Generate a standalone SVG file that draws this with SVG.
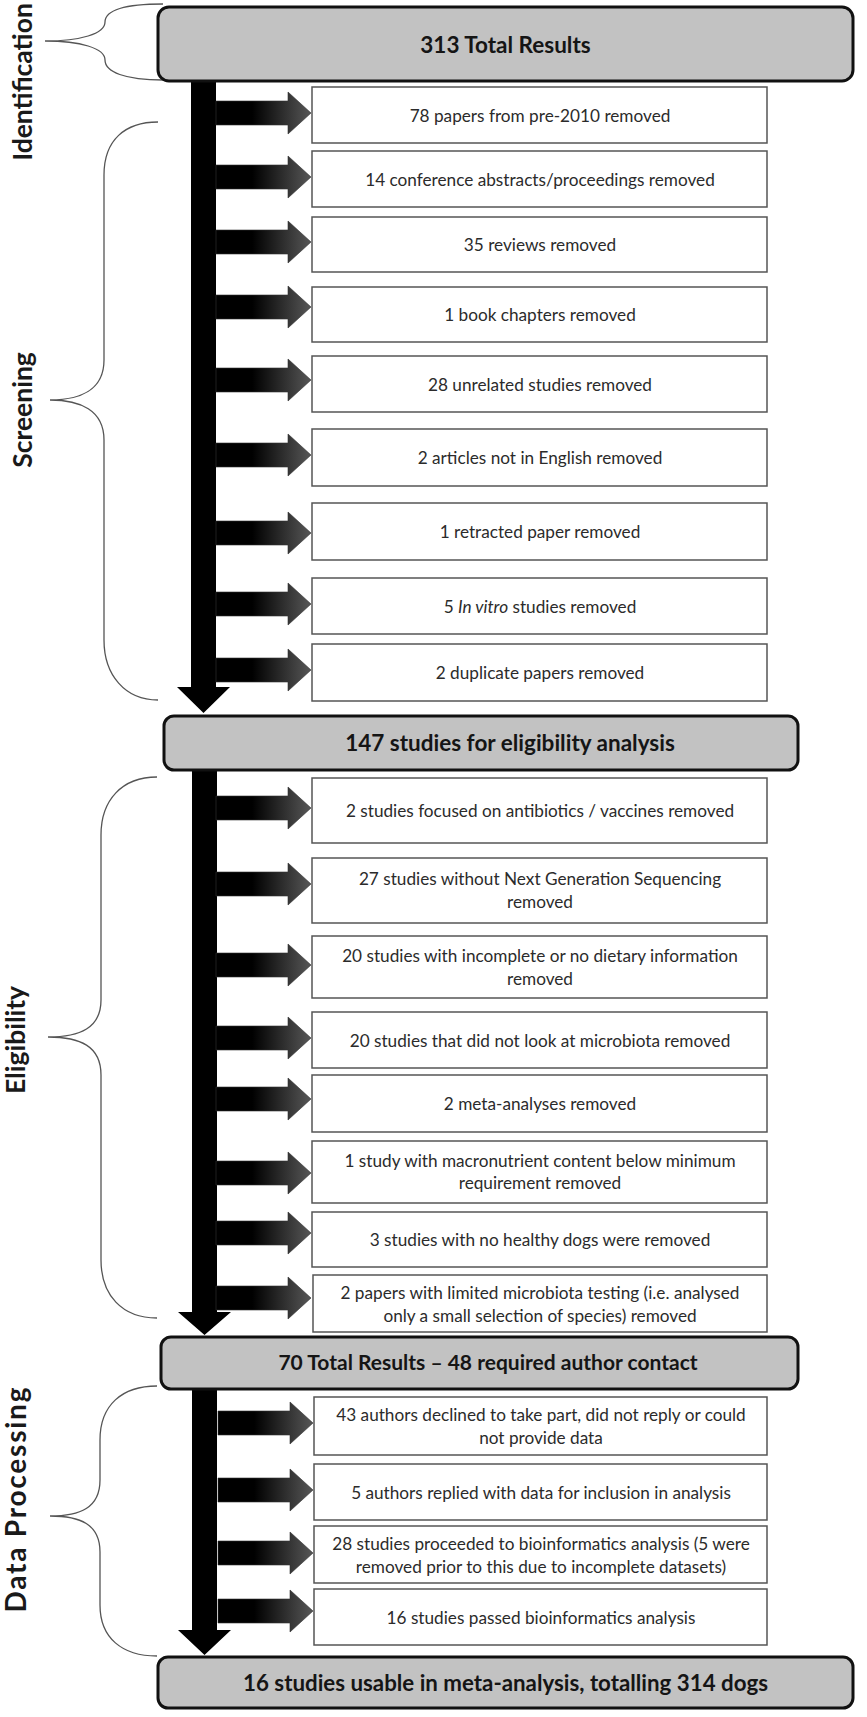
<svg xmlns="http://www.w3.org/2000/svg" xmlns:xlink="http://www.w3.org/1999/xlink" width="867" height="1717" viewBox="0 0 867 1717">
<style>
.gbox{fill:#c2c2c2;stroke:#111;stroke-width:3}
.sbox{fill:#fff;stroke:#555;stroke-width:1.5}
.gt{font-family:Lato,"Liberation Sans",sans-serif;font-weight:bold;font-size:22.5px;fill:#151515;text-anchor:middle}
.st{font-family:Lato,"Liberation Sans",sans-serif;font-size:17.2px;fill:#2b2b2b;text-anchor:middle}
.lab{font-family:Lato,"Liberation Sans",sans-serif;font-weight:bold;font-size:26.5px;fill:#1a1a1a;text-anchor:middle}
.brace{fill:none;stroke:#555;stroke-width:1.3}
.bar{fill:#000}
</style>
<defs>
<linearGradient id="ag" gradientUnits="userSpaceOnUse" x1="216" y1="0" x2="311" y2="0">
<stop offset="0" stop-color="#000"/>
<stop offset="0.38" stop-color="#000"/>
<stop offset="1" stop-color="#575757"/>
</linearGradient>
<path id="sa" d="M216,-12 H288 V-21 L311,0 L288,21 V12 H216 Z" fill="url(#ag)" stroke="#333" stroke-width="0.6"/>
</defs>

<g id="braces">
<path class="brace" d="M163,4 C125,4 105,10 105,22 C105,34 80,41 45,41 C80,41 105,48 105,60 C105,72 125,80 163,80"/>
<path class="brace" d="M158,122 C125,122 104,140 104,175 L104,360 C104,390 80,400 50,400 C80,400 104,410 104,440 L104,640 C104,675 125,700 158,700"/>
<path class="brace" d="M157,777 C122,777 101,800 101,835 L101,1000 C101,1028 80,1037 48,1037 C80,1037 101,1046 101,1075 L101,1260 C101,1295 122,1318 157,1318"/>
<path class="brace" d="M157,1386 C122,1386 100,1405 100,1440 L100,1480 C100,1508 80,1516 50,1516 C80,1516 100,1524 100,1552 L100,1605 C100,1638 122,1656 157,1656"/>
</g>

<g id="labels">
<text class="lab" transform="translate(32,82) rotate(-90)">Identification</text>
<text class="lab" transform="translate(32,410) rotate(-90)">Screening</text>
<text class="lab" transform="translate(25,1040) rotate(-90)">Eligibility</text>
<text class="lab" transform="translate(26,1500) rotate(-90)" style="font-size:28px" textLength="225" lengthAdjust="spacing">Data Processing</text>
</g>

<g id="connectors">
<path class="bar" d="M191,81 H216 V687 H230 L203.5,713 L177,687 H191 Z"/>
<path class="bar" d="M192,770 H217 V1312 H231 L204.5,1335 L178,1312 H192 Z"/>
<path class="bar" d="M192,1389 H217 V1630 H231 L204.5,1655 L178,1630 H192 Z"/>
<use xlink:href="#sa" y="113"/>
<use xlink:href="#sa" y="177"/>
<use xlink:href="#sa" y="242"/>
<use xlink:href="#sa" y="307"/>
<use xlink:href="#sa" y="380"/>
<use xlink:href="#sa" y="455"/>
<use xlink:href="#sa" y="533"/>
<use xlink:href="#sa" y="604"/>
<use xlink:href="#sa" y="670"/>
<use xlink:href="#sa" y="808"/>
<use xlink:href="#sa" y="884"/>
<use xlink:href="#sa" y="965"/>
<use xlink:href="#sa" y="1038"/>
<use xlink:href="#sa" y="1099"/>
<use xlink:href="#sa" y="1173"/>
<use xlink:href="#sa" y="1233"/>
<use xlink:href="#sa" y="1298"/>
<use xlink:href="#sa" x="2" y="1423"/>
<use xlink:href="#sa" x="2" y="1490"/>
<use xlink:href="#sa" x="2" y="1553"/>
<use xlink:href="#sa" x="2" y="1611"/>
</g>

<g id="n-total"><rect class="gbox" x="158" y="7" width="695" height="74" rx="11"/><text class="gt" x="505.5" y="53">313 Total Results</text></g>

<g id="n1"><rect class="sbox" x="312" y="87" width="455" height="56"/><text class="st" x="540" y="121.5">78 papers from pre-2010 removed</text></g>
<g id="n2"><rect class="sbox" x="312" y="151" width="455" height="56"/><text class="st" x="540" y="185.5">14 conference abstracts/proceedings removed</text></g>
<g id="n3"><rect class="sbox" x="312" y="217" width="455" height="55"/><text class="st" x="540" y="251">35 reviews removed</text></g>
<g id="n4"><rect class="sbox" x="312" y="287" width="455" height="55"/><text class="st" x="540" y="321">1 book chapters removed</text></g>
<g id="n5"><rect class="sbox" x="312" y="356" width="455" height="56"/><text class="st" x="540" y="390.5">28 unrelated studies removed</text></g>
<g id="n6"><rect class="sbox" x="312" y="429" width="455" height="57"/><text class="st" x="540" y="464">2 articles not in English removed</text></g>
<g id="n7"><rect class="sbox" x="312" y="503" width="455" height="57"/><text class="st" x="540" y="538">1 retracted paper removed</text></g>
<g id="n8"><rect class="sbox" x="312" y="578" width="455" height="56"/><text class="st" x="540" y="612.5">5 <tspan font-style="italic">In vitro</tspan> studies removed</text></g>
<g id="n9"><rect class="sbox" x="312" y="644" width="455" height="57"/><text class="st" x="540" y="679">2 duplicate papers removed</text></g>

<g id="n-elig"><rect class="gbox" x="164" y="716" width="634" height="54" rx="10"/><text class="gt" x="510" y="751">147 studies for eligibility analysis</text></g>

<g id="n10"><rect class="sbox" x="312" y="778" width="455" height="65"/><text class="st" x="540" y="817">2 studies focused on antibiotics / vaccines removed</text></g>
<g id="n11"><rect class="sbox" x="312" y="858" width="455" height="65"/><text class="st" x="540" y="885">27 studies without Next Generation Sequencing</text><text class="st" x="540" y="908">removed</text></g>
<g id="n12"><rect class="sbox" x="312" y="936" width="455" height="62"/><text class="st" x="540" y="961.5">20 studies with incomplete or no dietary information</text><text class="st" x="540" y="984.5">removed</text></g>
<g id="n13"><rect class="sbox" x="312" y="1012" width="455" height="56"/><text class="st" x="540" y="1046.5">20 studies that did not look at microbiota removed</text></g>
<g id="n14"><rect class="sbox" x="312" y="1075" width="455" height="57"/><text class="st" x="540" y="1110">2 meta-analyses removed</text></g>
<g id="n15"><rect class="sbox" x="312" y="1141" width="455" height="62"/><text class="st" x="540" y="1166.5">1 study with macronutrient content below minimum</text><text class="st" x="540" y="1189">requirement removed</text></g>
<g id="n16"><rect class="sbox" x="312" y="1212" width="455" height="55"/><text class="st" x="540" y="1246">3 studies with no healthy dogs were removed</text></g>
<g id="n17"><rect class="sbox" x="313" y="1275" width="454" height="57"/><text class="st" x="540" y="1299">2 papers with limited microbiota testing (i.e. analysed</text><text class="st" x="540" y="1322">only a small selection of species) removed</text></g>

<g id="n-contact"><rect class="gbox" x="161" y="1337" width="637" height="52" rx="10"/><text class="gt" x="488" y="1370" style="font-size:21px">70 Total Results – 48 required author contact</text></g>

<g id="n18"><rect class="sbox" x="314" y="1397" width="453" height="58"/><text class="st" x="541" y="1421">43 authors declined to take part, did not reply or could</text><text class="st" x="541" y="1444">not provide data</text></g>
<g id="n19"><rect class="sbox" x="314" y="1464" width="453" height="56"/><text class="st" x="541" y="1498.5">5 authors replied with data for inclusion in analysis</text></g>
<g id="n20"><rect class="sbox" x="314" y="1526" width="453" height="57"/><text class="st" x="541" y="1549.5">28 studies proceeded to bioinformatics analysis (5 were</text><text class="st" x="541" y="1572.5">removed prior to this due to incomplete datasets)</text></g>
<g id="n21"><rect class="sbox" x="314" y="1589" width="453" height="56"/><text class="st" x="541" y="1623.5">16 studies passed bioinformatics analysis</text></g>

<g id="n-final"><rect class="gbox" x="158" y="1657" width="695" height="51" rx="10"/><text class="gt" x="505.5" y="1690.5" style="font-size:22.3px">16 studies usable in meta-analysis,  totalling 314 dogs</text></g>
</svg>
